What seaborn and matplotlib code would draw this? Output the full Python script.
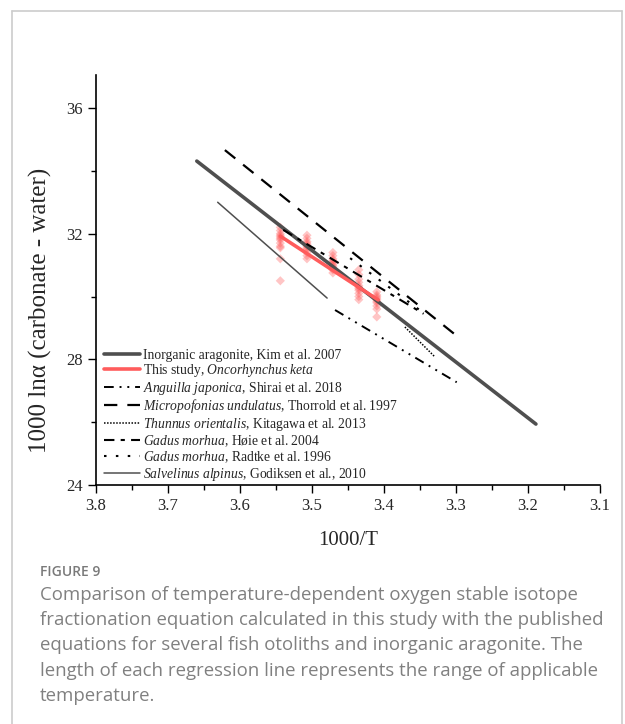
import matplotlib
matplotlib.use("Agg")
import matplotlib.pyplot as plt
from matplotlib.lines import Line2D
import seaborn as sns
import pandas as pd

# ---- data ----
# regression lines: (x_start, x_end), (y_start, y_end)
aragonite_x = [3.660, 3.189]
aragonite_y = [34.31, 25.94]
study_x = [3.544, 3.408]
study_y = [31.92, 29.89]
anguilla_x = [3.468, 3.299]
anguilla_y = [29.57, 27.27]
micropog_x = [3.621, 3.297]
micropog_y = [34.66, 28.71]
thunnus_x = [3.371, 3.329]
thunnus_y = [29.03, 28.07]
hoie_x = [3.540, 3.345]
hoie_y = [32.12, 29.45]
radtke_x = [3.447, 3.343]
radtke_y = [31.22, 29.44]
salvelinus_x = [3.631, 3.479]
salvelinus_y = [33.00, 29.95]

# measured points of this study
pts_x1 = 3.544
pts_y1 = [32.2, 32.1, 32.0, 31.95, 31.9, 31.85, 31.8, 31.7, 31.6, 31.55, 31.2, 30.5]
pts_x2 = 3.507
pts_y2 = [31.95, 31.85, 31.75, 31.7, 31.65, 31.6, 31.55, 31.5, 31.4, 31.3, 31.2]
pts_x3 = 3.471
pts_y3 = [31.4, 31.3, 31.2, 31.15, 31.1, 31.05, 31.0, 30.95, 30.9, 30.85, 30.75]
pts_x4 = 3.435
pts_y4 = [30.85, 30.7, 30.55, 30.45, 30.35, 30.3, 30.25, 30.2, 30.1, 30.0, 29.9]
pts_x5 = 3.410
pts_y5 = [30.15, 30.05, 30.0, 29.95, 29.9, 29.85, 29.8, 29.7, 29.6, 29.35]

xticks = [3.8, 3.7, 3.6, 3.5, 3.4, 3.3, 3.2, 3.1]
yticks = [24, 28, 32, 36]

labels = [
    "Inorganic aragonite, Kim et al. 2007",
    "This study, $\\it{Oncorhynchus\\ keta}$",
    "$\\it{Anguilla\\ japonica}$, Shirai et al. 2018",
    "$\\it{Micropofonias\\ undulatus}$, Thorrold et al. 1997",
    "$\\it{Thunnus\\ orientalis}$, Kitagawa et al. 2013",
    "$\\it{Gadus\\ morhua}$, Høie et al. 2004",
    "$\\it{Gadus\\ morhua}$, Radtke et al. 1996",
    "$\\it{Salvelinus\\ alpinus}$, Godiksen et al., 2010",
]

sns.set_style("white")
plt.rcParams["font.family"] = ["Liberation Serif", "DejaVu Serif"]
plt.rcParams["mathtext.fontset"] = "custom"
plt.rcParams["mathtext.rm"] = "Liberation Serif"
plt.rcParams["mathtext.it"] = "Liberation Serif:italic"

fig = plt.figure(figsize=(6.25, 7.24), dpi=100)
ax = fig.add_axes([0.1536, 0.3301, 0.8064, 0.5663])

rows = []
for xv, ys in [(pts_x1, pts_y1), (pts_x2, pts_y2), (pts_x3, pts_y3),
               (pts_x4, pts_y4), (pts_x5, pts_y5)]:
    for yv in ys:
        rows.append({"x": xv, "y": yv})
pts = pd.DataFrame(rows)
sns.scatterplot(data=pts, x="x", y="y", ax=ax, marker="D", s=22,
                color="#ff5a5a", alpha=0.35, edgecolor="none", legend=False, zorder=2)

series = [
    (aragonite_x, aragonite_y, dict(color="#4f4f4f", lw=2.6, linestyle="-")),
    (study_x, study_y, dict(color="#ff5c5c", lw=2.6, linestyle="-")),
    (anguilla_x, anguilla_y, dict(color="black", lw=1.4, linestyle=(0, (5, 3, 1, 3, 1, 3)))),
    (micropog_x, micropog_y, dict(color="black", lw=1.6, linestyle=(0, (6, 4.5)))),
    (thunnus_x, thunnus_y, dict(color="black", lw=1.1, linestyle=(0, (1, 1)))),
    (hoie_x, hoie_y, dict(color="black", lw=1.5, linestyle=(0, (5, 3, 2, 3)))),
    (radtke_x, radtke_y, dict(color="black", lw=1.5, linestyle=(0, (1.2, 4.5)))),
    (salvelinus_x, salvelinus_y, dict(color="#4f4f4f", lw=1.1, linestyle="-")),
]
handles = []
for (xs, ys, st), lab in zip(series, labels):
    df = pd.DataFrame({"x": xs, "y": ys})
    sns.lineplot(data=df, x="x", y="y", ax=ax, sort=False, estimator=None,
                 zorder=3, **st)
    handles.append(Line2D([0], [0], **st, label=lab))

ax.set_xlim(3.8, 3.1)
ax.set_ylim(24, 37.05)
ax.set_xticks(xticks)
ax.set_xticklabels([f"{v:.1f}" for v in xticks], fontfamily="Liberation Serif")
ax.set_yticks(yticks)
ax.set_yticklabels([str(v) for v in yticks], fontfamily="Liberation Serif")
ax.set_xticks([3.75, 3.65, 3.55, 3.45, 3.35, 3.25, 3.15], minor=True)
ax.set_yticks([26, 30, 34], minor=True)
ax.tick_params(axis="both", which="major", direction="out", length=6, width=1,
               labelsize=12, color="black", bottom=True, left=True)
ax.tick_params(axis="both", which="minor", direction="out", length=3.5, width=1,
               color="black", bottom=True, left=True)
for s in ["top", "right"]:
    ax.spines[s].set_visible(False)
for s in ["left", "bottom"]:
    ax.spines[s].set_color("black")
    ax.spines[s].set_linewidth(1.2)

ax.set_xlabel("1000/T", fontsize=15, labelpad=12)
ax.set_ylabel("1000 lnα (carbonate - water)", fontsize=18)
ax.yaxis.set_label_coords(-0.087, 0.427)

leg = ax.legend(handles=handles, loc="lower left", frameon=False, fontsize=9.8,
                handlelength=2.6, handletextpad=0.25, labelspacing=0.04,
                borderaxespad=0.2, bbox_to_anchor=(0.0, -0.014))

# caption
cap_font = ["Open Sans", "DejaVu Sans"]
fig.text(40 / 625, 1 - 572 / 724, "FIGURE 9", fontsize=10, color="#7a7a7a",
         family=cap_font, fontweight="semibold", va="center", ha="left")
caption = ("Comparison of temperature-dependent oxygen stable isotope\n"
           "fractionation equation calculated in this study with the published\n"
           "equations for several fish otoliths and inorganic aragonite. The\n"
           "length of each regression line represents the range of applicable\n"
           "temperature.")
fig.text(40 / 625, 1 - 585.5 / 724, caption, fontsize=13.4, color="#808080",
         family=cap_font, va="top", ha="left", linespacing=1.53)

# page frame
fc = "#cccccc"
fig.add_artist(Line2D([12 / 625, 12 / 625], [0, 1 - 11 / 724], color=fc, lw=1.2,
                      transform=fig.transFigure))
fig.add_artist(Line2D([622 / 625, 622 / 625], [0, 1 - 11 / 724], color=fc, lw=1.2,
                      transform=fig.transFigure))
fig.add_artist(Line2D([12 / 625, 622 / 625], [1 - 11 / 724, 1 - 11 / 724], color=fc,
                      lw=1.2, transform=fig.transFigure))

fig.savefig("out.png", dpi=100, facecolor="white")
